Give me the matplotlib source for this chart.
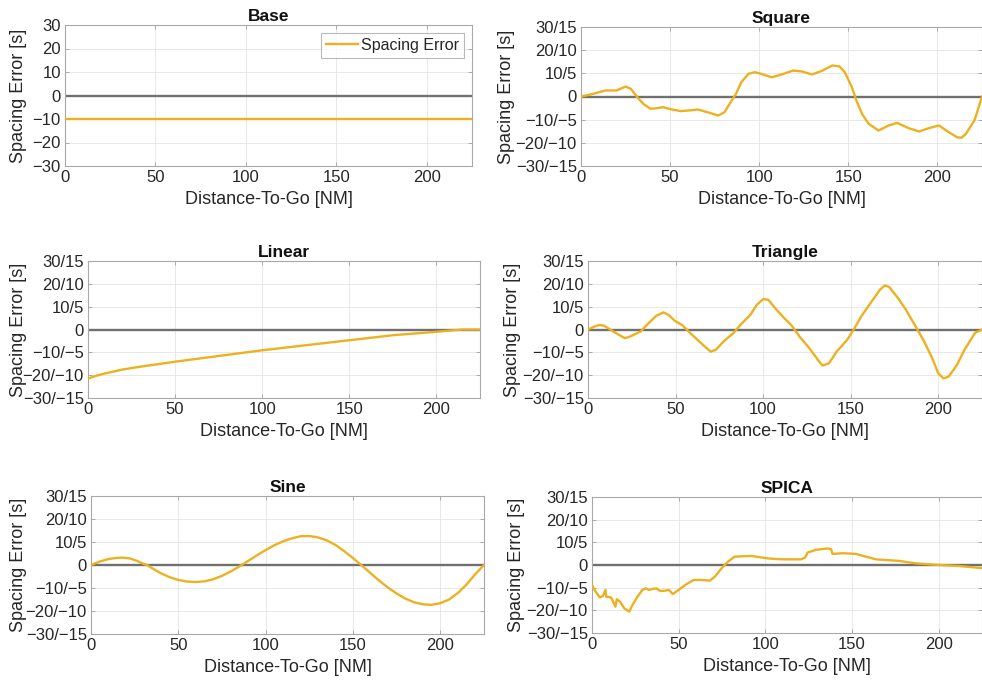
import numpy as np
import matplotlib
matplotlib.use("Agg")
import matplotlib.pyplot as plt

plt.rcParams['font.family'] = ['Liberation Sans', 'DejaVu Sans']

# Spacing error traces, distance-to-go [NM] vs error [s]
base_x = [0, 225]
base_y = [-10, -10]

square_x = [0, 5, 9, 13.7, 20, 25, 28, 31.6, 35, 39, 42, 46, 51, 56, 61, 65.5, 71, 77,
            80.5, 84, 87, 90, 94, 97.5, 101, 107, 112.5, 119, 124, 129.5, 135, 141,
            145, 148, 152, 154.5, 157.7, 161.4, 167, 172.6, 177.4, 184, 189.6, 195,
            200.8, 206.4, 211, 213.5, 216, 220.7, 223, 225]
square_y = [0, 0.8, 1.6, 2.6, 2.6, 4.3, 3.3, -0.3, -3.2, -5.3, -5.1, -4.6, -5.6, -6.3,
            -6.0, -5.6, -6.8, -8.2, -6.8, -2.4, 1.2, 6.2, 9.8, 10.5, 9.8, 8.3, 9.5,
            11.2, 10.8, 9.5, 11.0, 13.4, 13.0, 10.5, 4.0, -1.7, -7.5, -11.8, -14.7,
            -12.5, -11.4, -13.7, -15.1, -13.7, -12.5, -15.4, -17.6, -17.8, -16.1,
            -10.4, -5.0, 0]

linear_x = [0, 5, 10, 20, 30, 40, 50, 75, 100, 125, 150, 175, 200, 215, 225]
linear_y = [-21.5, -20.2, -19.2, -17.5, -16.3, -15.2, -14.1, -11.6, -9.1, -6.9,
            -4.7, -2.5, -1.0, 0, 0]

triangle_x = [0, 3.7, 6.6, 9.4, 12, 16.9, 21, 24, 30, 34.6, 39, 43, 46, 49.6, 54, 59,
              64.6, 70, 73, 77.7, 83, 87, 92.7, 96.4, 100, 103, 107.7, 112, 116,
              120.8, 126.4, 132, 134, 137.6, 142, 148, 151.7, 156, 162, 166.7, 169.5,
              172, 177, 181.6, 186, 192, 196.6, 200, 203, 206, 210.7, 215, 221, 225]
triangle_y = [0, 1.3, 2.0, 1.6, 0.3, -2.0, -3.8, -3.1, -0.9, 2.8, 6.0, 7.5, 6.4, 3.8,
              1.8, -2.0, -6.0, -9.7, -8.9, -5.0, -1.6, 2.0, 6.4, 10.8, 13.3, 13.0, 8.6,
              5.0, 2.0, -3.1, -8.2, -14.0, -15.8, -14.8, -9.7, -4.5, -0.1, 5.7, 12.3,
              17.4, 19.3, 18.6, 13.8, 8.6, 2.8, -5.3, -12.6, -19.2, -21.4, -20.6,
              -15.5, -8.9, -1.5, 0]

sine_x = [0, 5, 10, 15, 18, 22, 26, 30, 32, 35, 40, 45, 50, 55, 60, 65, 70, 75, 80,
          85, 90, 95, 100, 105, 110, 115, 120, 125, 130, 135, 140, 145, 150, 155,
          160, 165, 170, 175, 180, 185, 190, 195, 200, 205, 210, 215, 220, 225]
sine_y = [0, 1.5, 2.6, 3.1, 3.2, 2.9, 1.9, 0.5, 0, -1.4, -3.6, -5.3, -6.5, -7.2,
          -7.4, -7.1, -6.2, -4.7, -2.8, -0.6, 1.8, 4.2, 6.5, 8.6, 10.3, 11.6, 12.5,
          12.6, 12.0, 10.7, 8.7, 6.0, 3.0, -0.2, -3.5, -6.8, -9.8, -12.4, -14.6,
          -16.2, -17.1, -17.3, -16.6, -15.0, -12.2, -8.5, -4.0, 0]

spica_x = [0, 1.5, 4.4, 6.3, 7.8, 8.2, 11, 13.5, 14.3, 16.2, 18.6, 21.5, 23.4, 26.2,
           29.1, 31, 32.9, 34.8, 37, 39.5, 42.4, 44.3, 46.6, 50, 53.8, 58.6, 63.3,
           68, 70.9, 74.7, 78.5, 82.3, 91.8, 100.4, 106.7, 112, 120.6, 123, 124.4,
           129.2, 136, 137.9, 138.8, 144.6, 152.3, 158, 163.8, 177.3, 186.9, 200.4,
           211.9, 222.7, 225]
spica_y = [-8.8, -11.0, -14.3, -13.7, -11.0, -14.0, -14.3, -18.4, -15.1, -16.2,
           -19.1, -20.6, -17.6, -14.0, -11.0, -10.3, -11.0, -10.6, -10.3, -11.5,
           -11.3, -11.0, -12.8, -11.0, -8.8, -6.6, -6.6, -6.9, -5.1, -1.5, 1.5, 3.7,
           4.0, 3.0, 2.6, 2.5, 2.5, 3.3, 5.5, 6.7, 7.3, 7.0, 4.9, 5.2, 4.9, 3.7, 2.5,
           1.8, 0.7, 0, -0.45, -1.2, -1.3]

yticks = [-30, -20, -10, 0, 10, 20, 30]
base_labels = ['\u221230', '\u221220', '\u221210', '0', '10', '20', '30']
pair_labels = ['\u221230/\u221215', '\u221220/\u221210', '\u221210/\u22125', '0',
               '10/5', '20/10', '30/15']

# title, x, y, tick labels, axes box in pixels (left, top, right, bottom), y-label centre x
panels = [
    ('Base', base_x, base_y, base_labels, [65, 25, 472, 166], 19),
    ('Square', square_x, square_y, pair_labels, [581, 27, 982, 166], 507),
    ('Linear', linear_x, linear_y, pair_labels, [88, 261, 480, 398], 19),
    ('Triangle', triangle_x, triangle_y, pair_labels, [588, 261, 982, 398], 513),
    ('Sine', sine_x, sine_y, pair_labels, [91, 496, 484, 634], 19),
    ('SPICA', spica_x, spica_y, pair_labels, [592, 497, 982, 633], 517),
]

W, H = 982, 684
line_color = '#EDB120'
text_color = '#262626'

fig = plt.figure(figsize=(W / 100, H / 100), dpi=100)

for title, xs, ys, ylabels, (l, t, r, b), ylab_x in panels:
    ax = fig.add_axes([l / W, 1 - b / H, (r - l) / W, (b - t) / H])
    ax.axhline(0, color='#707070', lw=1.7, zorder=2)
    ax.plot(xs, ys, color=line_color, lw=1.7, label='Spacing Error', zorder=3)
    ax.set_xlim(0, 225)
    ax.set_ylim(-30, 30)
    ax.set_xticks([0, 50, 100, 150, 200])
    ax.set_yticks(yticks)
    ax.set_yticklabels(ylabels)
    ax.grid(True, color='#e4e4e4', lw=0.6)
    ax.set_axisbelow(True)
    ax.tick_params(direction='in', length=3, width=0.6, colors='#a0a0a0',
                   labelcolor=text_color, labelsize=12, top=True, right=True, pad=3)
    for s in ax.spines.values():
        s.set_color('#a8a8a8')
        s.set_linewidth(0.8)
    ax.set_title(title, fontsize=12.5, fontweight='bold', color='#111111', pad=3)
    ax.set_xlabel('Distance-To-Go [NM]', fontsize=13, color=text_color, labelpad=4)
    ax.set_ylabel('Spacing Error [s]', fontsize=13, color=text_color)
    ax.yaxis.set_label_coords((ylab_x + 8 - l) / (r - l), 0.5)
    if title == 'Base':
        leg = ax.legend(loc='upper right', fontsize=11.5, frameon=True, fancybox=False,
                        handlelength=2.0, handletextpad=0.2, borderpad=0.3,
                        borderaxespad=0.5)
        leg.get_frame().set_edgecolor('#a8a8a8')
        leg.get_frame().set_linewidth(0.8)
        for txt in leg.get_texts():
            txt.set_color(text_color)

fig.savefig('out.png', dpi=100)
